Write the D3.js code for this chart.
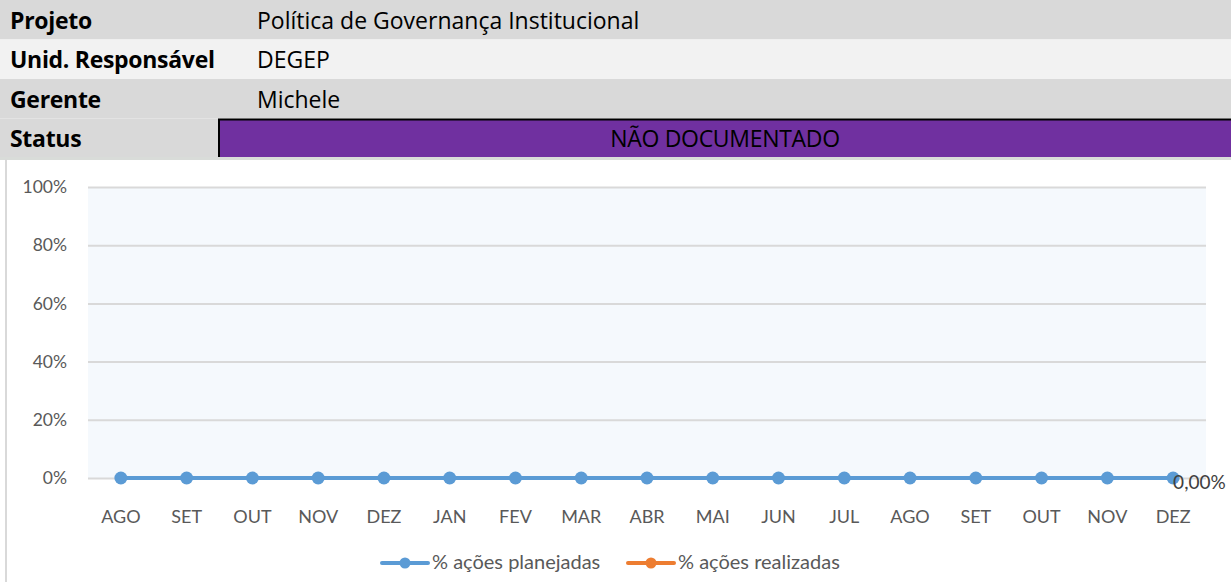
<!DOCTYPE html>
<html>
<head>
<meta charset="utf-8">
<script src="https://cdn.jsdelivr.net/npm/d3@7"></script>
<style>
  body { margin: 0; background: #fff; }
  svg { display: block; }
</style>
</head>
<body>
<div class="graphic"></div>
<script>
// header table
const headerLabels = ["Projeto", "Unid. Responsável", "Gerente", "Status"];
const headerValues = ["Política de Governança Institucional", "DEGEP", "Michele", "NÃO DOCUMENTADO"];

// chart data
const months = ["AGO", "SET", "OUT", "NOV", "DEZ", "JAN", "FEV", "MAR", "ABR", "MAI", "JUN", "JUL", "AGO", "SET", "OUT", "NOV", "DEZ"];
const planejadas = [0, 0, 0, 0, 0, 0, 0, 0, 0, 0, 0, 0, 0, 0, 0, 0, 0];
const realizadas = [];
const yTicks = [0, 0.2, 0.4, 0.6, 0.8, 1];
const seriesNames = ["% ações planejadas", "% ações realizadas"];
const seriesColors = ["#5b9bd5", "#ed7d31"];

const W = 1231, H = 582;
const font = "Lato, 'Open Sans', sans-serif";
const headFont = "'Open Sans', Lato, sans-serif";

const svg = d3.select(".graphic")
  .append("svg")
    .attr("width", W)
    .attr("height", H);

// ---- header rows ----
const rowY = d3.scaleBand()
  .domain(headerLabels)
  .range([0, 158]);

const rows = svg.selectAll("g.row")
  .data(headerLabels)
  .join("g")
    .attr("class", "row")
    .attr("transform", d => `translate(0,${rowY(d)})`);

rows.append("rect")
    .attr("width", W)
    .attr("height", rowY.bandwidth())
    .attr("fill", (d, i) => i === 1 ? "#f2f2f2" : "#d9d9d9");

rows.append("text")
    .text(d => d)
    .attr("x", 10)
    .attr("y", rowY.bandwidth() / 2 + 9)
    .attr("font-family", headFont)
    .attr("font-weight", "bold")
    .attr("font-size", 23)
    .attr("letter-spacing", -0.3)
    .attr("fill", "#000");

rows.filter((d, i) => i < 3)
  .append("text")
    .text((d, i) => headerValues[i])
    .attr("x", 257)
    .attr("y", rowY.bandwidth() / 2 + 9)
    .attr("font-family", headFont)
    .attr("font-size", 23)
    .attr("fill", "#000");

// status cell
const status = rows.filter((d, i) => i === 3);
status.append("rect")
    .attr("x", 219)
    .attr("y", 1)
    .attr("width", W - 219)
    .attr("height", rowY.bandwidth() - 2)
    .attr("fill", "#7030a0");
status.append("path")
    .attr("d", `M219,${rowY.bandwidth() - 1}V1H${W}`)
    .attr("fill", "none")
    .attr("stroke", "#000")
    .attr("stroke-width", 2);
status.append("text")
    .text(headerValues[3])
    .attr("x", 725)
    .attr("y", rowY.bandwidth() / 2 + 9)
    .attr("text-anchor", "middle")
    .attr("font-family", headFont)
    .attr("font-size", 23)
    .attr("letter-spacing", -0.3)
    .attr("fill", "#000");

// chart frame: grey strip on top and a left border
svg.append("rect")
    .attr("y", 157)
    .attr("width", W)
    .attr("height", 3)
    .attr("fill", "#d9dcd9");
svg.append("line")
    .attr("x1", 6).attr("x2", 6)
    .attr("y1", 159).attr("y2", H)
    .attr("stroke", "#d9d9d9")
    .attr("stroke-width", 2);

// ---- chart ----
const x = d3.scaleBand()
  .domain(d3.range(months.length))
  .range([88, 1206]);

const y = d3.scaleLinear()
  .domain([0, 1])
  .range([478, 187]);

svg.append("rect")
    .attr("x", 88)
    .attr("y", y(1))
    .attr("width", 1206 - 88)
    .attr("height", y(0) - y(1))
    .attr("fill", "#f5f9fd");

const yAxis = svg.append("g")
    .attr("transform", "translate(88,0)")
    .call(d3.axisLeft(y)
      .tickValues(yTicks)
      .tickSize(-(1206 - 88))
      .tickPadding(21)
      .tickFormat(d => Math.round(d * 100) + "%"));
yAxis.select(".domain").remove();
yAxis.selectAll(".tick line").attr("stroke", "#d9d9d9").attr("stroke-width", 2);
yAxis.selectAll(".tick text")
    .attr("font-family", font)
    .attr("font-size", 17.5)
    .attr("fill", "#595959");

const xAxis = svg.append("g")
    .attr("transform", `translate(0,${y(0)})`)
    .call(d3.axisBottom(x)
      .tickSize(0)
      .tickPadding(32)
      .tickFormat(i => months[i]));
xAxis.select(".domain").remove();
xAxis.selectAll(".tick text")
    .attr("font-family", font)
    .attr("font-size", 18)
    .attr("fill", "#595959");

const cx = i => x(i) + x.bandwidth() / 2;
const line = d3.line()
  .x((d, i) => cx(i))
  .y(d => y(d));

[planejadas, realizadas].forEach((series, s) => {
  svg.append("path")
      .datum(series)
      .attr("d", series.length ? line : null)
      .attr("fill", "none")
      .attr("stroke", seriesColors[s])
      .attr("stroke-width", 4);
  svg.selectAll(null)
    .data(series)
    .join("circle")
      .attr("cx", (d, i) => cx(i))
      .attr("cy", d => y(d))
      .attr("r", 6.5)
      .attr("fill", seriesColors[s]);
});

// data label on the last point
const last = planejadas.length - 1;
svg.append("text")
    .text(d3.format(".2f")(planejadas[last] * 100).replace(".", ",") + "%")
    .attr("x", cx(last))
    .attr("y", y(planejadas[last]) + 11)
    .attr("font-family", font)
    .attr("font-size", 19)
    .attr("fill", "#404040");

// ---- legend ----
const legendX = [382, 628];
const legend = svg.selectAll("g.legend")
  .data(seriesNames)
  .join("g")
    .attr("class", "legend")
    .attr("transform", (d, i) => `translate(${legendX[i]},563)`);
legend.append("line")
    .attr("x1", 0).attr("x2", 46)
    .attr("stroke", (d, i) => seriesColors[i])
    .attr("stroke-width", 4)
    .attr("stroke-linecap", "round");
legend.append("circle")
    .attr("cx", 23)
    .attr("r", 5.5)
    .attr("fill", (d, i) => seriesColors[i]);
legend.append("text")
    .text(d => d)
    .attr("x", 50)
    .attr("y", 6)
    .attr("font-family", font)
    .attr("font-size", 20)
    .attr("fill", "#595959");
</script>
</body>
</html>
